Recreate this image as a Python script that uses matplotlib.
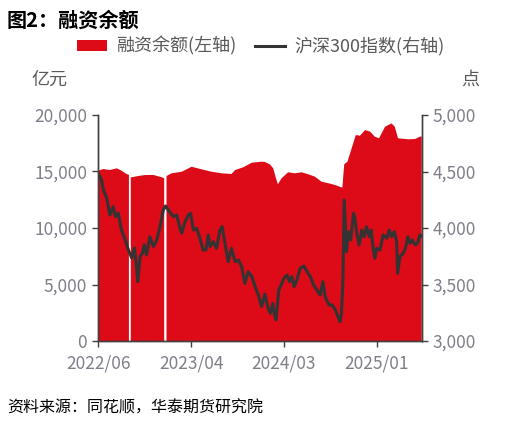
import numpy as np
import matplotlib
matplotlib.use("Agg")
import matplotlib.pyplot as plt
from matplotlib.ticker import FuncFormatter, FixedLocator

plt.rcParams['font.family'] = ['Noto Sans CJK SC', 'DejaVu Sans']

# ---- data (x = trading-day index) ----
tick_pos = [0, 200, 400, 600]
tick_labels = ['2022/06', '2023/04', '2024/03', '2025/01']
x_end = 697

margin_pos = [0, 11, 25, 40, 50, 61, 66, 68.5, 70, 72, 86, 101, 119, 137, 142, 144.5, 147,
              158, 180, 201, 223, 244, 266, 287, 295, 312, 331, 352, 359, 370, 377,
              382, 387, 395, 409, 424, 438, 453, 467, 481, 496, 510, 526, 530, 537,
              546, 555, 564, 575, 586, 596, 605, 618, 632, 639, 646, 668, 683, 693, 697]
margin_val = [15070, 15220, 15130, 15280, 15070, 14780, 14700, np.nan, 14490, 14490, 14600,
              14690, 14690, 14490, 14400, np.nan, 14600, 14840, 14980, 15420, 15190,
              14980, 14840, 14780, 15130, 15370, 15780, 15870, 15850, 15630, 15280,
              14540, 13870, 14400, 14930, 14840, 14930, 14750, 14540, 14100, 13960,
              13810, 13570, 15630, 15870, 17050, 18230, 18170, 18670, 18520, 18080,
              17940, 18960, 19260, 18960, 17940, 17850, 17880, 18080, 18100]

hs300_pos = [0, 7, 11, 18, 25, 32, 37, 43, 50, 58, 65, 72, 78, 83, 85, 90, 95, 99, 104,
             111, 119, 126, 133, 140, 145, 151, 162, 169, 176, 180, 187, 194, 199, 205,
             212, 219, 226, 232, 237, 241, 248, 255, 262, 267, 273, 280, 287, 295, 302,
             309, 316, 323, 331, 338, 345, 352, 359, 366, 371, 376, 380, 383, 389, 394,
             400, 407, 412, 417, 422, 428, 435, 443, 450, 457, 464, 471, 478, 484, 489,
             497, 504, 511, 518, 521, 524, 527, 530, 535, 539, 544, 550, 553, 557, 562,
             568, 573, 578, 584, 588, 593, 596, 600, 607, 614, 622, 627, 632, 638, 643,
             645, 650, 657, 662, 667, 672, 677, 683, 688, 693, 696]
hs300_val = [4480, 4425, 4336, 4265, 4115, 4188, 4100, 4133, 3982, 3894, 3805, 3735, 3823,
             3628, 3525, 3746, 3779, 3850, 3761, 3923, 3835, 3894, 4012, 4159, 4195, 4159,
             4100, 4115, 4000, 3955, 4056, 4115, 4130, 3982, 3997, 3909, 3805, 3805, 3938,
             3835, 3879, 3820, 3982, 4012, 3865, 3702, 3820, 3702, 3717, 3658, 3510, 3613,
             3569, 3481, 3407, 3304, 3415, 3289, 3245, 3333, 3230, 3186, 3451, 3496, 3555,
             3584, 3525, 3569, 3481, 3540, 3643, 3664, 3613, 3569, 3496, 3451, 3407, 3525,
             3392, 3319, 3319, 3274, 3200, 3171, 3245, 3510, 4248, 3790, 3967, 3894, 4130,
             4086, 3953, 3850, 3982, 3923, 4012, 3923, 3982, 3805, 3732, 3820, 3805, 3938,
             3909, 3982, 3923, 3967, 3879, 3599, 3746, 3776, 3820, 3923, 3865, 3894, 3850,
             3865, 3938, 3930]

left_ticks = [0, 5000, 10000, 15000, 20000]
right_ticks = [3000, 3500, 4000, 4500, 5000]

RED = '#DD0A17'
LINE = '#333333'
AX = '#404040'
TICK = '#7F7F8A'

fig = plt.figure(figsize=(5.19, 4.26), dpi=100)
ax = fig.add_axes([98.3/519, 1-341/426, (421.7-98.3)/519, (341-115)/426])
ax2 = ax.twinx()

ax.fill_between(margin_pos, 0, margin_val, color=RED, linewidth=0, label='融资余额(左轴)')
ax2.plot(hs300_pos, hs300_val, color=LINE, linewidth=2.2, label='沪深300指数(右轴)')

ax.set_xlim(0, x_end)
ax.set_ylim(0, 20000)
ax2.set_ylim(3000, 5000)
ax.xaxis.set_major_locator(FixedLocator(tick_pos))
ax.set_xticklabels(tick_labels)
ax.set_yticks(left_ticks)
ax2.set_yticks(right_ticks)
fmt = FuncFormatter(lambda v, p: f'{int(v):,}')
ax.yaxis.set_major_formatter(fmt)
ax2.yaxis.set_major_formatter(fmt)

for a in (ax, ax2):
    a.spines['top'].set_visible(False)
    for s in ('left', 'right', 'bottom'):
        a.spines[s].set_color(AX)
        a.spines[s].set_linewidth(1.0)
    a.tick_params(colors=AX, labelcolor=TICK, labelsize=12.5, length=4.5, width=1.0,
                  direction='out')
ax.tick_params(axis='y', pad=3.5)
ax2.tick_params(axis='y', pad=3.5)
ax.tick_params(axis='x', pad=5)

fig.text(7/519, 1-20/426, '图2：融资余额', fontsize=14.5, fontweight='bold', color='black',
         ha='left', va='center')
fig.text(31/519, 1-80/426, '亿元', fontsize=13, color='#595959', ha='left', va='center')
fig.text(479/519, 1-80/426, '点', fontsize=13, color='#595959', ha='right', va='center')
fig.text(7/519, 1-408/426, '资料来源：同花顺，华泰期货研究院', fontsize=11.5, color='black',
         ha='left', va='center', style='italic')

h1, l1 = ax.get_legend_handles_labels()
h2, l2 = ax2.get_legend_handles_labels()
leg = fig.legend(h1 + h2, l1 + l2, loc='center', bbox_to_anchor=(0.502, 1-46/426), ncol=2,
                 frameon=False, fontsize=13, handlelength=1.7, handleheight=0.6,
                 columnspacing=1.0, handletextpad=0.5)
for t in leg.get_texts():
    t.set_color('#595959')

fig.savefig('out.png', dpi=100)
